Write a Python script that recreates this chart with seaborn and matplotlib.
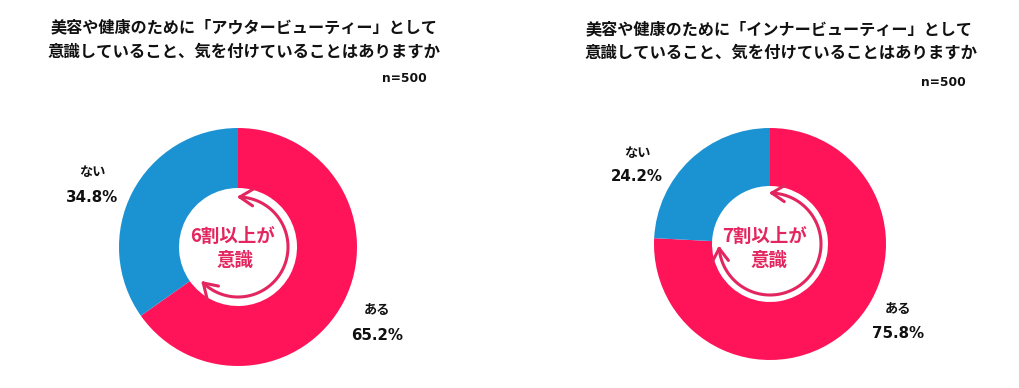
import numpy as np
import seaborn as sns
import matplotlib
matplotlib.use("Agg")
import matplotlib.pyplot as plt

# values
labels = ["ある", "ない"]
outer_values = [65.2, 34.8]
inner_values = [75.8, 24.2]
outer_title = ["美容や健康のために「アウタービューティー」として", "意識していること、気を付けていることはありますか"]
inner_title = ["美容や健康のために「インナービューティー」として", "意識していること、気を付けていることはありますか"]

W, H = 1020, 388
PINK = "#FF1459"
BLUE = "#1B93D3"
TEXT_PINK = "#E3265F"

sns.set_theme(style="white")
plt.rcParams["font.family"] = ["Noto Sans CJK JP", "DejaVu Sans"]

fig = plt.figure(figsize=(W / 100, H / 100), dpi=100)
palette = sns.color_palette([PINK, BLUE])


def txt(x, y, s, size, color="#111111", ha="center", family=None):
    # x, y in image pixels
    fig.text(x / W, 1 - y / H, s, fontsize=size, fontweight="bold", color=color,
             ha=ha, va="center", family=family)


def arrow_head(ax, ang, clockwise_end, r, color):
    # small V at the end of the arc, ang in degrees
    a = np.deg2rad(ang)
    tip = np.array([r * np.cos(a), r * np.sin(a)])
    tangent = np.array([-np.sin(a), np.cos(a)])
    if clockwise_end:
        tangent = -tangent
    normal = np.array([np.cos(a), np.sin(a)])
    for side in (1, -1):
        p = tip - 0.11 * tangent + side * 0.07 * normal
        ax.plot([tip[0], p[0]], [tip[1], p[1]], color=color, lw=2.2,
                solid_capstyle="round")


def donut(cx, cy, rad, hole, values, end_angle, arc_r):
    ax = fig.add_axes([(cx - rad) / W, 1 - (cy + rad) / H, 2 * rad / W, 2 * rad / H])
    ax.pie(values, colors=palette, startangle=90, counterclock=False, radius=1,
           wedgeprops={"width": 1 - hole / rad, "linewidth": 0})
    ax.set_xlim(-1, 1)
    ax.set_ylim(-1, 1)
    ax.axis("off")
    # arrow round the hole, clockwise from the top
    r = arc_r / rad
    t = np.deg2rad(np.linspace(88, end_angle, 120))
    ax.plot(r * np.cos(t), r * np.sin(t), color=TEXT_PINK, lw=2.2)
    arrow_head(ax, 88, False, r, TEXT_PINK)
    arrow_head(ax, end_angle, True, r, TEXT_PINK)


donut(238, 247, 119, 59, outer_values, -134, 50)
donut(770, 244, 116, 58, inner_values, -175, 51)

txt(244, 27, outer_title[0], 11.6)
txt(244, 52, outer_title[1], 11.8)
txt(779, 29, inner_title[0], 11.6)
txt(781, 53, inner_title[1], 11.8)

txt(427, 78, "n=500", 8.8, ha="right", family="DejaVu Sans")
txt(966, 83, "n=500", 8.8, ha="right", family="DejaVu Sans")

txt(92, 172, labels[1], 9.5)
txt(92, 197, f"{outer_values[1]}%", 10.8, family="DejaVu Sans")
txt(377, 310, labels[0], 9.5)
txt(377, 336, f"{outer_values[0]}%", 10.8, family="DejaVu Sans")

txt(637, 153, labels[1], 9.5)
txt(637, 177, f"{inner_values[1]}%", 10.8, family="DejaVu Sans")
txt(898, 309, labels[0], 9.5)
txt(898, 333, f"{inner_values[0]}%", 10.8, family="DejaVu Sans")

txt(233, 236, "6割以上が", 13.3, color=TEXT_PINK)
txt(235, 260, "意識", 13.3, color=TEXT_PINK)
txt(765, 236, "7割以上が", 13.3, color=TEXT_PINK)
txt(769, 260, "意識", 13.3, color=TEXT_PINK)

fig.savefig("out.png", dpi=100, facecolor="white")
